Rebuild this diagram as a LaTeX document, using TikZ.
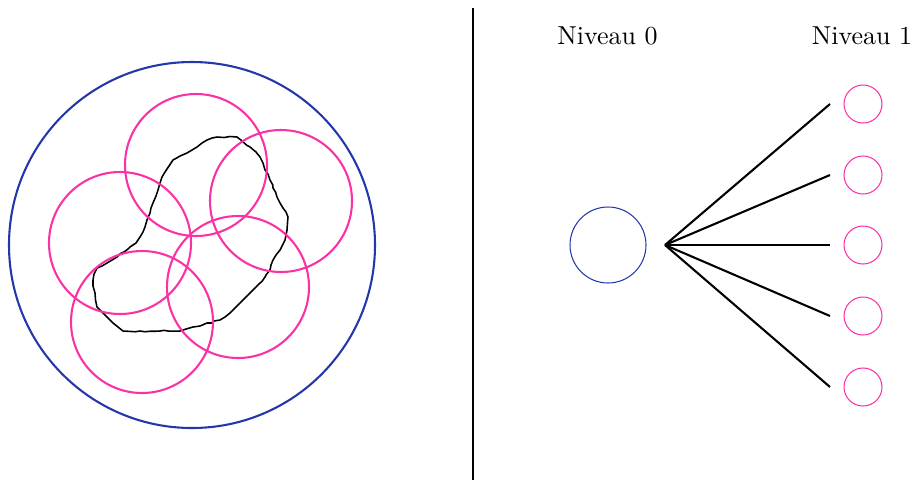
\documentclass[tikz,border=0pt]{standalone}
\usetikzlibrary{calc,decorations.pathmorphing}
\definecolor{bigblue}{RGB}{35,55,170}
\definecolor{hotpink}{RGB}{250,50,165}
\tikzset{
  pinkthick/.style={draw=hotpink, line width=0.8pt},
  bluethick/.style={draw=bigblue, line width=0.8pt},
  blob/.style={draw=black, line width=0.6pt, line join=round, decorate, decoration={random steps, segment length=2pt, amplitude=0.35pt}},
  fanline/.style={draw=black, line width=0.8pt},
  smallblue/.style={circle, draw=bigblue, line width=0.4pt, minimum size=76*0.385pt, inner sep=0pt},
  smallpink/.style={circle, draw=hotpink, line width=0.4pt, minimum size=38*0.385pt, inner sep=0pt},
  level/.style={font=\normalsize, inner sep=0pt}
}
\begin{document}
\begin{tikzpicture}[x=0.385pt, y=-0.385pt]
\pgfmathsetseed{7}
\useasboundingbox (0,0) rectangle (917,480);
% left panel
\draw[bluethick] (192,245) circle (183);
\draw[blob] (217,137) -- (224,137.5) -- (230,136.5) -- (237,137) -- (243,142) -- (250,147) -- (256,152) -- (260,157) -- (263,163) -- (265,170) -- (268,174) -- (270,180) -- (273,188) -- (277,197) -- (280,203) -- (283,208) -- (286,212) -- (288,217) -- (287.5,223) -- (287,230) -- (286,235) -- (285,240) -- (282,246) -- (280,250) -- (276,255) -- (273,260) -- (271,265) -- (270,270) -- (265,277) -- (260,283) -- (255,288) -- (250,293) -- (245,298) -- (240,303) -- (235,308) -- (230,313) -- (225,317) -- (220,320) -- (214,321) -- (212,323) -- (207,323) -- (200,326) -- (193,327) -- (186,329) -- (180,331) -- (160,331) -- (140,331) -- (123,331) -- (118,327) -- (113,323) -- (108,318) -- (103,313) -- (100,310) -- (97,307) -- (95.5,300) -- (95,293) -- (93,286) -- (93,280) -- (94,274) -- (97,268) -- (102,266) -- (107,263) -- (112,260) -- (117,257) -- (124,252) -- (130,247) -- (136,243) -- (140,237) -- (143,232) -- (145,227) -- (147,220) -- (150,213) -- (151,208) -- (153,203) -- (156,196) -- (158,190) -- (160,183) -- (162,177) -- (165,172) -- (169,166) -- (173,160) -- (180,156) -- (187,153) -- (192,150) -- (197,147) -- (202,143) -- (207,140) -- (212,138) -- cycle;
\draw[pinkthick] (196,165) circle (71);
\draw[pinkthick] (281,201) circle (71);
\draw[pinkthick] (120,243) circle (71);
\draw[pinkthick] (238,287) circle (71);
\draw[pinkthick] (142,322) circle (71);
% separator
\coordinate (septop) at (473,8);
\coordinate (sepbot) at (473,480);
\draw[line width=0.8pt] (septop) -- (sepbot);
% right panel
\node[level] (lvl0) at (607.5,36) {Niveau 0};
\node[level] (lvl1) at (862,36) {Niveau 1};
\node[smallblue] (root) at (608,245) {};
\coordinate (fan) at (665,245);
\foreach \i/\y in {1/104,2/175,3/245,4/316,5/387}{
  \coordinate (e\i) at (830,\y);
  \node[smallpink] (c\i) at (863,\y) {};
  \draw[fanline] (fan) -- (e\i);
}
\end{tikzpicture}
\end{document}
